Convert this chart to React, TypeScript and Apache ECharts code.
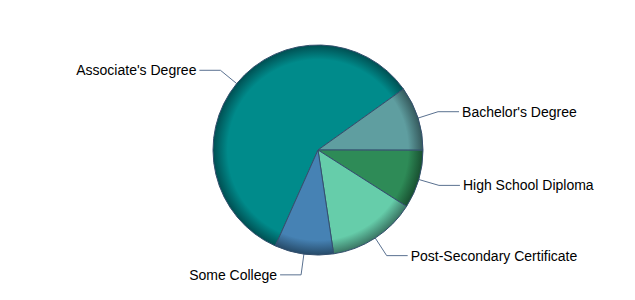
import React, { useEffect, useRef } from "react";
import * as echarts from "echarts";

const categories = [
  "Associate's Degree",
  "Bachelor's Degree",
  "High School Diploma",
  "Post-Secondary Certificate",
  "Some College",
];
const values = [58.5, 9.9, 9.0, 13.6, 9.05];
const colors = ["#008B8B", "#5F9EA0", "#2E8B57", "#66CDAA", "#4682B4"];
const rimColors = ["#004f52", "#35595c", "#184f30", "#3a7563", "#264a68"];

const CX = 318;
const CY = 150;
const R = 105;

export default function App() {
  const ref = useRef<HTMLDivElement>(null);
  useEffect(() => {
    document.body.style.margin = "0";
    const chart = echarts.init(ref.current!, null, { renderer: "svg" });
    chart.setOption({
      animation: false,
      backgroundColor: "#ffffff",
      series: [
        {
          type: "pie",
          center: [CX, CY],
          radius: R,
          startAngle: 246,
          clockwise: true,
          avoidLabelOverlap: false,
          data: categories.map((name, i) => ({
            name,
            value: values[i],
            itemStyle: {
              color: {
                type: "radial",
                x: CX,
                y: CY,
                r: R,
                global: true,
                colorStops: [
                  { offset: 0, color: colors[i] },
                  { offset: 0.86, color: colors[i] },
                  { offset: 1, color: rimColors[i] },
                ],
              },
            },
          })),
          itemStyle: { borderColor: "#34506e", borderWidth: 1 },
          label: {
            show: true,
            position: "outside",
            formatter: "{b}",
            color: "#000000",
            fontFamily: "Liberation Sans, Arial, sans-serif",
            fontSize: 14,
            distanceToLabelLine: 3,
          },
          labelLine: {
            show: true,
            length: 21,
            length2: 21,
            smooth: false,
            lineStyle: { color: "#5a7190", width: 1 },
          },
          emphasis: { disabled: true },
        },
      ],
    });
    return () => chart.dispose();
  }, []);
  return <div ref={ref} style={{ width: 635, height: 300 }} />;
}
